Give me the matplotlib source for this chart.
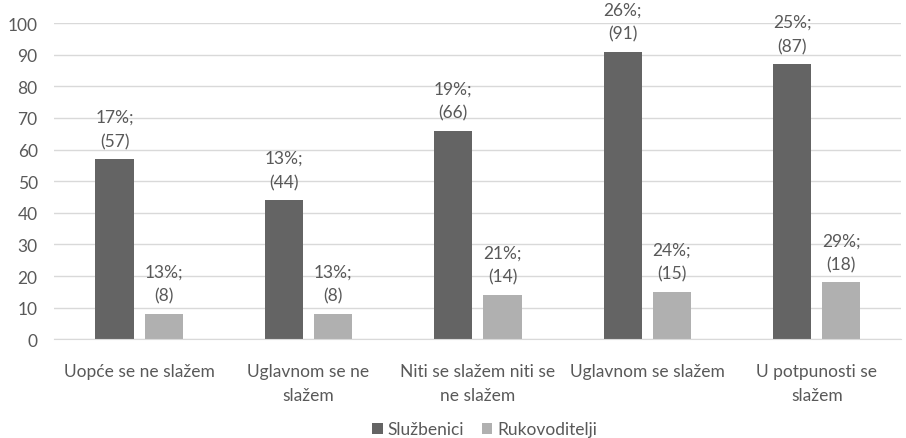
import numpy as np
import matplotlib
matplotlib.use("Agg")
import matplotlib.pyplot as plt

categories = ["Uopće se ne slažem", "Uglavnom se ne\nslažem", "Niti se slažem niti se\nne slažem",
              "Uglavnom se slažem", "U potpunosti se\nslažem"]
sluzbenici = [57, 44, 66, 91, 87]
sluzbenici_pct = [17, 13, 19, 26, 25]
rukovoditelji = [8, 8, 14, 15, 18]
rukovoditelji_pct = [13, 13, 21, 24, 29]

plt.rcParams['font.family'] = ['Lato', 'DejaVu Sans']
text_color = "#595959"
fs = 12.5

fig = plt.figure(figsize=(9.06, 4.39), dpi=100)
ax = fig.add_axes([0.06, 0.225, 0.935, 0.72])

x = np.arange(len(categories))
w = 0.225
off = 0.145
b1 = ax.bar(x - off, sluzbenici, w, color="#646464", label="Službenici", zorder=3)
b2 = ax.bar(x + off, rukovoditelji, w, color="#b0b0b0", label="Rukovoditelji", zorder=3)

for xi, v, p in zip(x, sluzbenici, sluzbenici_pct):
    ax.text(xi - off, v + 3.2, "%d%%;\n(%d)" % (p, v), ha="center", va="bottom",
            fontsize=fs, color=text_color, linespacing=1.6, zorder=4)
for xi, v, p in zip(x, rukovoditelji, rukovoditelji_pct):
    ax.text(xi + off, v + 3.2, "%d%%;\n(%d)" % (p, v), ha="center", va="bottom",
            fontsize=fs, color=text_color, linespacing=1.6, zorder=4)

ax.set_ylim(0, 100)
ax.set_xlim(-0.5, len(categories) - 0.5)
ax.set_yticks(range(0, 101, 10))
ax.set_xticks(x)
ax.set_xticklabels(categories, fontsize=fs, color=text_color, linespacing=1.6)
ax.tick_params(axis="y", labelsize=fs, labelcolor=text_color, length=0, pad=12)
ax.tick_params(axis="x", length=0, pad=17)
ax.yaxis.grid(True, color="#d9d9d9", lw=1, zorder=0)
for s in ["top", "right", "left"]:
    ax.spines[s].set_visible(False)
ax.spines["bottom"].set_color("#d9d9d9")
ax.spines["bottom"].set_zorder(5)

fig.legend(handles=[b1, b2], loc="center", ncol=2, frameon=False,
           bbox_to_anchor=(0.535, 0.02), borderaxespad=0, borderpad=0,
           fontsize=fs, labelcolor=text_color,
           handlelength=0.6, handleheight=0.6, handletextpad=0.3, columnspacing=1.0)

fig.savefig("out.png", dpi=100)
